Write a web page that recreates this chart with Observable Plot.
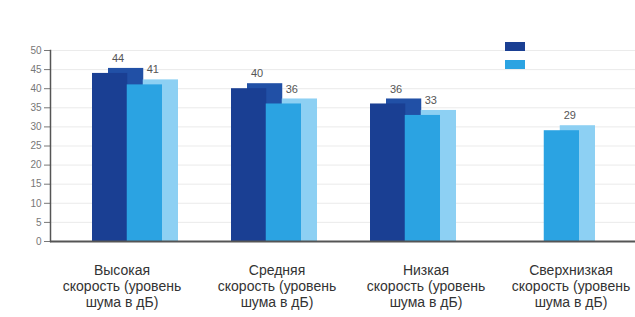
<!DOCTYPE html>
<html>
<head>
<meta charset="utf-8">
<script src="https://cdn.jsdelivr.net/npm/d3@7"></script>
<script src="https://cdn.jsdelivr.net/npm/@observablehq/plot@0.6"></script>
<style>
  html, body { margin: 0; padding: 0; background: #fff; }
  #wrap { position: relative; width: 635px; height: 317px; overflow: hidden; font-family: "Liberation Sans", Arial, sans-serif; }
  #chart svg { display: block; }
  .lab { position: absolute; top: 262px; width: 160px; text-align: center; font-size: 14px; line-height: 16px; color: #333; white-space: nowrap; }
  .sw { position: absolute; width: 20px; height: 9px; }
</style>
</head>
<body>
<div id="wrap">
  <div id="chart"></div>
</div>
<script>
const categories = [
  "Высокая скорость (уровень шума в дБ)",
  "Средняя скорость (уровень шума в дБ)",
  "Низкая скорость (уровень шума в дБ)",
  "Сверхнизкая скорость (уровень шума в дБ)"
];
const labelLines = [
  ["Высокая", "скорость (уровень", "шума в дБ)"],
  ["Средняя", "скорость (уровень", "шума в дБ)"],
  ["Низкая", "скорость (уровень", "шума в дБ)"],
  ["Сверхнизкая", "скорость (уровень", "шума в дБ)"]
];
const series1Values = [44, 40, 36, null];
const series2Values = [41, 36, 33, 29];
const yTicks = [0, 5, 10, 15, 20, 25, 30, 35, 40, 45, 50];

const s1 = categories.map((c, i) => ({category: c, value: series1Values[i]})).filter(d => d.value != null);
const s2 = categories.map((c, i) => ({category: c, value: series2Values[i]})).filter(d => d.value != null);

const step = 139;
const bw = step * 0.5;
const half = bw / 2;
const depthX = 16, depthY = 5;

const chart = Plot.plot({
  width: 635,
  height: 250,
  marginTop: 50,
  marginBottom: 9,
  marginLeft: 50,
  marginRight: 0,
  style: {fontFamily: "Liberation Sans, Arial, sans-serif", background: "transparent"},
  x: {type: "band", domain: categories, range: [57.25, 613.25], paddingInner: 0.5, paddingOuter: 0.25, axis: null},
  y: {domain: [0, 50], axis: null},
  marks: [
    Plot.gridY(yTicks, {stroke: "#d8d8d8", strokeOpacity: 0.5}),
    Plot.axisY({ticks: yTicks, tickSize: 6, tickPadding: 3, fontSize: 10, color: "#777", label: null}),
    Plot.frame({anchor: "left", stroke: "#555", strokeWidth: 1.5}),
    Plot.barY(s1, {x: "category", y: "value", fill: "#2150a6", insetRight: half, dx: depthX, insetTop: -depthY}),
    Plot.barY(s1, {x: "category", y: "value", fill: "#1a3f93", insetRight: half}),
    Plot.barY(s2, {x: "category", y: "value", fill: "#8dd0f3", insetLeft: half, dx: depthX, insetTop: -depthY}),
    Plot.barY(s2, {x: "category", y: "value", fill: "#2ba3e2", insetLeft: half}),
    Plot.text(s1, {x: "category", y: "value", text: "value", dx: -half / 2 + 8, dy: -15, fontSize: 11, fill: "#555"}),
    Plot.text(s2, {x: "category", y: "value", text: "value", dx: half / 2 + 8, dy: -15, fontSize: 11, fill: "#555"}),
    Plot.ruleY([0], {stroke: "#555", strokeWidth: 2})
  ]
});
document.getElementById("chart").appendChild(chart);

const wrap = document.getElementById("wrap");
const labelCenters = [122, 277, 426, 571];
labelLines.forEach((lines, i) => {
  const d = document.createElement("div");
  d.className = "lab";
  d.style.left = (labelCenters[i] - 80) + "px";
  d.innerHTML = lines.join("<br>");
  wrap.appendChild(d);
});
const sw1 = document.createElement("div");
sw1.className = "sw"; sw1.style.left = "505px"; sw1.style.top = "42px"; sw1.style.background = "#1a3f93";
const sw2 = document.createElement("div");
sw2.className = "sw"; sw2.style.left = "505px"; sw2.style.top = "60px"; sw2.style.background = "#2ba3e2";
wrap.appendChild(sw1); wrap.appendChild(sw2);
</script>
</body>
</html>
